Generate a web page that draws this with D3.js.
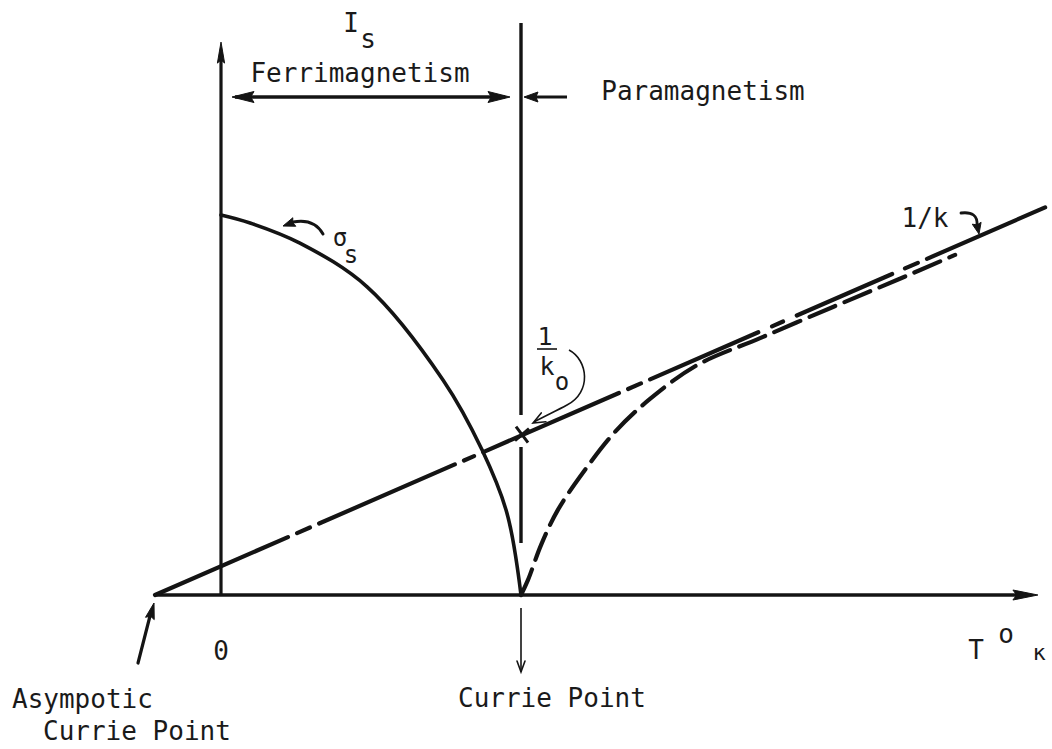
<!DOCTYPE html>
<html>
<head>
<meta charset="utf-8">
<script src="https://cdn.jsdelivr.net/npm/d3@7"></script>
<style>
  html, body { margin: 0; padding: 0; background: #fff; }
  svg { display: block; }
  text { font-family: "DejaVu Sans Mono", "Liberation Mono", monospace; fill: #1a1a1a; }
</style>
</head>
<body>
<svg id="chart" width="1052" height="749"></svg>
<script>
// Temperature is in units of the Curie point (T / Tc); ordinate is dimensionless.
const curieT = 1.0;
const asymptoticT = -0.22;

// Spontaneous magnetisation sigma_s below the Curie point
const sigmaT = [0, 0.097, 0.263, 0.487, 0.74, 0.87, 0.953, 1.0];
const sigmaV = [1.0, 0.979, 0.926, 0.811, 0.566, 0.382, 0.216, 0];

// Reciprocal susceptibility above the Curie point (ferrimagnet, hyperbolic branch)
const invChiT = [1.0, 1.023, 1.067, 1.123, 1.213, 1.313, 1.43, 1.587, 1.797, 2.04, 2.253, 2.447];
const invChiV = [0, 0.039, 0.132, 0.224, 0.329, 0.429, 0.516, 0.605, 0.676, 0.758, 0.829, 0.895];

// Linear Curie-Weiss asymptote 1/k
const invKT = [asymptoticT, 2.747];
const invKV = [0, 1.02];

// Axis text
const originLabel = "0";
const curieLabel = "Currie Point";
const asymptoticLabel = ["Asympotic", "Currie Point"];
const leftRegion = "Ferrimagnetism";
const rightRegion = "Paramagnetism";

const svg = d3.select("#chart");
const ink = "#141414";

const x = d3.scaleLinear().domain([0, 1]).range([221, 521]);
const y = d3.scaleLinear().domain([0, 1]).range([595, 215]);

// filled arrowhead with its tip at (x2, y2)
function head(g, x1, y1, x2, y2, len, half) {
  const a = Math.atan2(y2 - y1, x2 - x1);
  const bx = x2 - len * Math.cos(a), by = y2 - len * Math.sin(a);
  const px = -Math.sin(a) * half, py = Math.cos(a) * half;
  g.append("path")
    .attr("d", `M${x2},${y2}L${bx + px},${by + py}L${bx + len * 0.15 * Math.cos(a)},${by + len * 0.15 * Math.sin(a)}L${bx - px},${by - py}Z`)
    .attr("fill", ink).attr("stroke", ink).attr("stroke-width", 1).attr("stroke-linejoin", "round");
}
// open (V) arrowhead
function vhead(g, x1, y1, x2, y2, len, half, w) {
  const a = Math.atan2(y2 - y1, x2 - x1);
  const bx = x2 - len * Math.cos(a), by = y2 - len * Math.sin(a);
  const px = -Math.sin(a) * half, py = Math.cos(a) * half;
  g.append("path")
    .attr("d", `M${bx + px},${by + py}L${x2},${y2}L${bx - px},${by - py}`)
    .attr("fill", "none").attr("stroke", ink).attr("stroke-width", w).attr("stroke-linecap", "round");
}

const g = svg.append("g");

// axes
const xAxisEnd = 2.723, yAxisTop = 1.455;
g.append("line")
  .attr("x1", x(asymptoticT)).attr("y1", y(0)).attr("x2", x(xAxisEnd) - 10).attr("y2", y(0))
  .attr("stroke", ink).attr("stroke-width", 3.4);
head(g, x(0), y(0), x(xAxisEnd), y(0), 25, 5);
g.append("line")
  .attr("x1", x(0)).attr("y1", y(0)).attr("x2", x(0)).attr("y2", y(yAxisTop) + 10)
  .attr("stroke", ink).attr("stroke-width", 3.2);
head(g, x(0), y(0), x(0), y(yAxisTop), 21, 3.6);

// Curie point vertical, broken around the crossing of the 1/k line and near the cusp
const curieTop = 1.505;
g.append("line")
  .attr("x1", x(curieT)).attr("y1", y(curieTop)).attr("x2", x(curieT)).attr("y2", y(0))
  .attr("stroke", ink).attr("stroke-width", 3.4)
  .attr("stroke-dasharray", "392 32 96 200");

const smooth = d3.line().x(d => x(d[0])).y(d => y(d[1])).curve(d3.curveCatmullRom.alpha(0.5));

// sigma_s
g.append("path")
  .datum(d3.zip(sigmaT, sigmaV))
  .attr("d", smooth)
  .attr("fill", "none").attr("stroke", ink).attr("stroke-width", 3.6).attr("stroke-linecap", "round");

// 1/chi above Tc (dashed)
g.append("path")
  .datum(d3.zip(invChiT, invChiV))
  .attr("d", smooth)
  .attr("fill", "none").attr("stroke", ink).attr("stroke-width", 4.2)
  .attr("stroke-dasharray", "28 10").attr("stroke-linecap", "round");

// 1/k straight line, drawn as a chain line
g.append("path")
  .datum(d3.zip(invKT, invKV))
  .attr("d", d3.line().x(d => x(d[0])).y(d => y(d[1])))
  .attr("fill", "none").attr("stroke", ink).attr("stroke-width", 4.2).attr("stroke-linecap", "round")
  .attr("stroke-dasharray", "145 10 14 10 148 10 11 10 148 10 14 10 118 15 12 15 104 14 14 10 140");

// cross at 1/k0 (1/k line at T = Tc)
const slope = (invKV[1] - invKV[0]) / (invKT[1] - invKT[0]);
const k0 = invKV[0] + slope * (curieT - invKT[0]);
const cx = x(curieT) + 1, cy = y(k0) - 1;
g.append("path")
  .attr("d", `M${cx - 6},${cy - 8}L${cx + 6},${cy + 8}M${cx - 7},${cy + 6}L${cx + 7},${cy - 6}`)
  .attr("stroke", ink).attr("stroke-width", 3).attr("fill", "none");

// region arrows
const bandY = 97;
g.append("line").attr("x1", x(0) + 14).attr("y1", bandY).attr("x2", x(curieT) - 16).attr("y2", bandY)
  .attr("stroke", ink).attr("stroke-width", 3.6);
head(g, x(curieT) - 40, bandY, x(0) + 11, bandY, 22, 5.5);
head(g, x(0) + 40, bandY, x(curieT) - 11, bandY, 22, 5.5);
g.append("line").attr("x1", x(curieT) + 46).attr("y1", bandY).attr("x2", x(curieT) + 10).attr("y2", bandY)
  .attr("stroke", ink).attr("stroke-width", 3.2);
head(g, x(curieT) + 40, bandY, x(curieT) + 3, bandY, 14, 5);

// labels: I_s and regions
g.append("text").attr("x", 351).attr("y", 32).attr("text-anchor", "middle").attr("font-size", 26).text("I");
g.append("text").attr("x", 368).attr("y", 48).attr("text-anchor", "middle").attr("font-size", 26).text("s");
g.append("text").attr("x", 360).attr("y", 82).attr("text-anchor", "middle").attr("font-size", 26).text(leftRegion);
g.append("text").attr("x", 703).attr("y", 100).attr("text-anchor", "middle").attr("font-size", 26).text(rightRegion);

// sigma_s label with curved pointer
g.append("text").attr("x", 340).attr("y", 246).attr("text-anchor", "middle").attr("font-size", 24).text("σ");
g.append("text").attr("x", 351).attr("y", 263).attr("text-anchor", "middle").attr("font-size", 24).text("s");
g.append("path").attr("d", "M323,234 Q314,218 293,222")
  .attr("fill", "none").attr("stroke", ink).attr("stroke-width", 3).attr("stroke-linecap", "round");
head(g, 300, 220, 283, 226, 12, 4.5);

// 1/k label with curved pointer
g.append("text").attr("x", 925).attr("y", 227).attr("text-anchor", "middle").attr("font-size", 26).text("1/k");
g.append("path").attr("d", "M961,213 Q978,211 977,225")
  .attr("fill", "none").attr("stroke", ink).attr("stroke-width", 2.8).attr("stroke-linecap", "round");
head(g, 976, 220, 979, 234, 11, 4.5);

// 1/k0 fraction and thin pointer to the cross
g.append("text").attr("x", 545).attr("y", 345).attr("text-anchor", "middle").attr("font-size", 25).text("1");
g.append("line").attr("x1", 537).attr("y1", 349).attr("x2", 557).attr("y2", 349)
  .attr("stroke", ink).attr("stroke-width", 1.6);
g.append("text").attr("x", 547).attr("y", 375).attr("text-anchor", "middle").attr("font-size", 25).text("k");
g.append("text").attr("x", 562).attr("y", 390).attr("text-anchor", "middle").attr("font-size", 24).text("o");
g.append("path").attr("d", "M569,350 C588,360 592,392 567,405 C556,411 545,416 534,422")
  .attr("fill", "none").attr("stroke", ink).attr("stroke-width", 1.6);
vhead(g, 548, 415, 533, 423, 12, 5, 1.6);

// T axis unit label
g.append("text").attr("x", 976).attr("y", 659).attr("text-anchor", "middle").attr("font-size", 26).text("T");
g.append("text").attr("x", 1006).attr("y", 643).attr("text-anchor", "middle").attr("font-size", 26).text("o");
g.append("text").attr("x", 1039).attr("y", 660).attr("text-anchor", "middle").attr("font-size", 22).text("κ");

// origin
g.append("text").attr("x", x(0)).attr("y", 660).attr("text-anchor", "middle").attr("font-size", 26).text(originLabel);

// Curie point marker
g.append("line").attr("x1", x(curieT)).attr("y1", 608).attr("x2", x(curieT)).attr("y2", 672)
  .attr("stroke", ink).attr("stroke-width", 1.6);
vhead(g, x(curieT), 640, x(curieT), 672, 11, 4, 1.6);
g.append("text").attr("x", 458).attr("y", 707).attr("font-size", 26).text(curieLabel);

// asymptotic Curie point
g.append("line").attr("x1", 138).attr("y1", 663).attr("x2", 150).attr("y2", 616)
  .attr("stroke", ink).attr("stroke-width", 3.2).attr("stroke-linecap", "round");
head(g, 138, 663, x(asymptoticT) - 1, 603, 16, 4.5);
g.append("text").attr("x", 12).attr("y", 708).attr("font-size", 26).text(asymptoticLabel[0]);
g.append("text").attr("x", 43).attr("y", 740).attr("font-size", 26).text(asymptoticLabel[1]);
</script>
</body>
</html>
